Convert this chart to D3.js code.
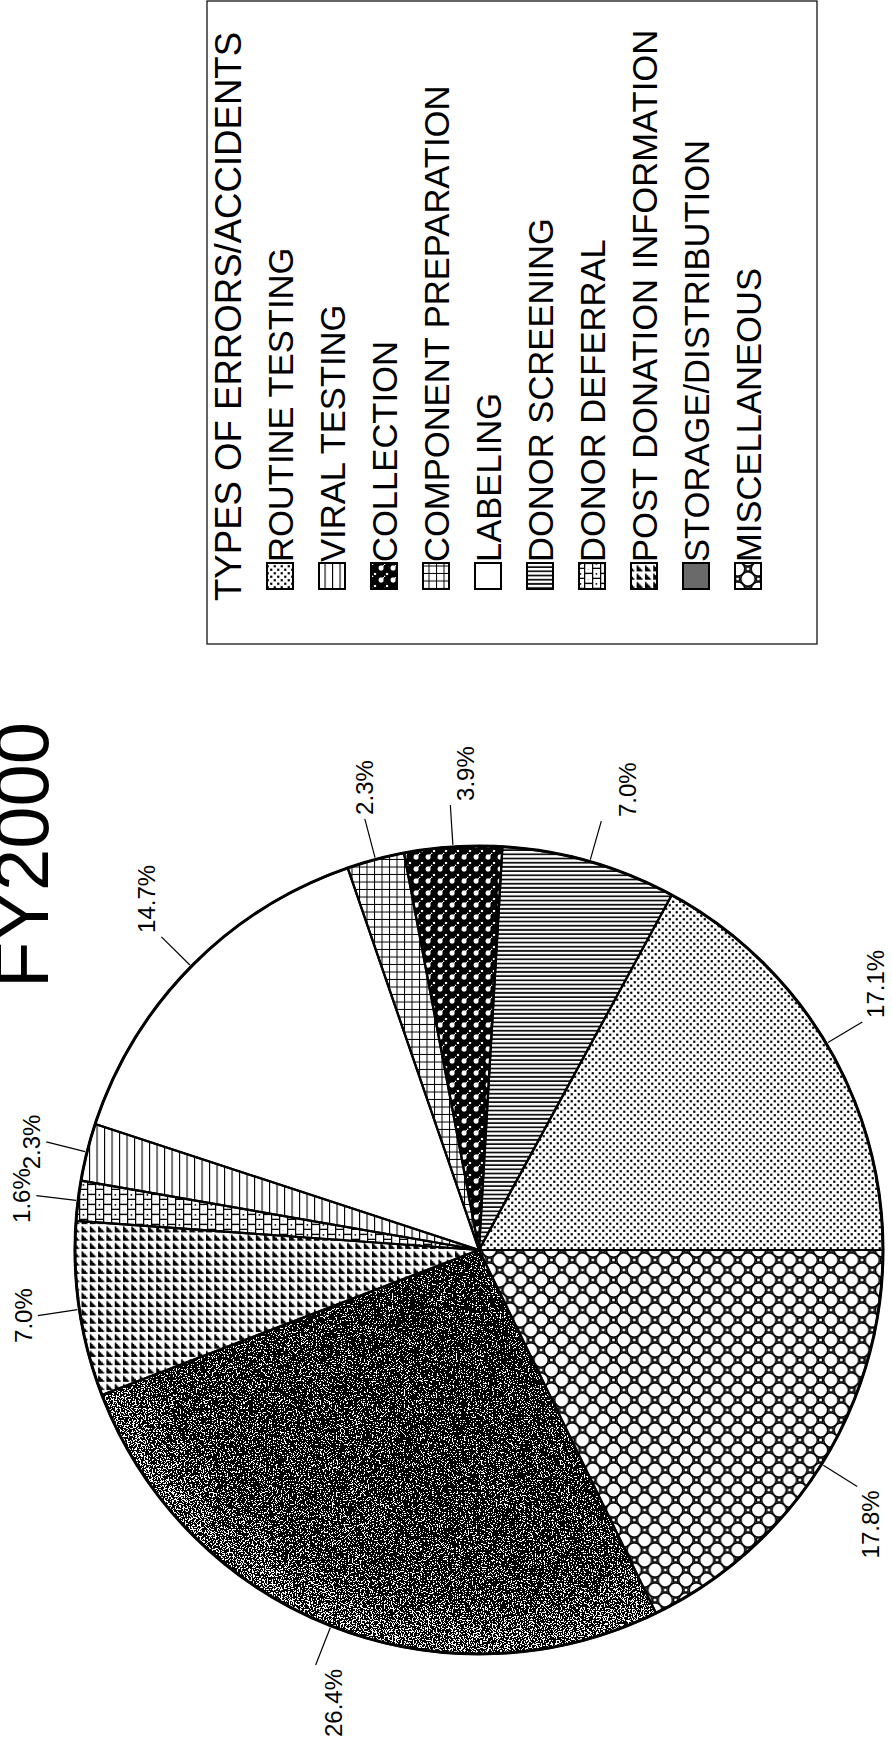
<!DOCTYPE html>
<html>
<head>
<meta charset="utf-8">
<script src="https://cdn.jsdelivr.net/npm/d3@7"></script>
<style>
  html, body { margin: 0; padding: 0; background: #fff; }
  svg { display: block; }
  text { font-family: "Liberation Sans", Arial, Helvetica, sans-serif; fill: #000; }
</style>
</head>
<body>
<script>
// Types of errors/accidents reported, FY2000 (percent of total)
const chartTitle = "FY2000";
const legendTitle = "TYPES OF ERRORS/ACCIDENTS";
const categories = [
  "ROUTINE TESTING",
  "VIRAL TESTING",
  "COLLECTION",
  "COMPONENT PREPARATION",
  "LABELING",
  "DONOR SCREENING",
  "DONOR DEFERRAL",
  "POST DONATION INFORMATION",
  "STORAGE/DISTRIBUTION",
  "MISCELLANEOUS"
];
const shares = [17.1, 2.3, 3.9, 2.3, 14.7, 7.0, 1.6, 7.0, 26.4, 17.8];
// order in which the slices run clockwise from six o'clock
const sliceOrder = [9, 8, 7, 6, 1, 4, 3, 2, 5, 0];
const fillIds = ["pRoutine", "pViral", "pCollection", "pComponent", "pLabeling",
                 "pScreening", "pDeferral", "pPost", "pStorage", "pMisc"];
// extra downward drop of some value labels, in px
const labelDrop = [0, 0, 15, 0, 0, 26, 0, 0, 32, 0];

// The chart is laid out landscape and turned a quarter turn onto the portrait page.
const PW = 892, PH = 1746;      // page
const W = PH, H = PW;           // landscape frame

const svg = d3.select("body").append("svg")
  .attr("width", PW).attr("height", PH)
  .attr("viewBox", `0 0 ${PW} ${PH}`);

const defs = svg.append("defs");

function pattern(id, w, h) {
  return defs.append("pattern").attr("id", id)
    .attr("patternUnits", "userSpaceOnUse")
    .attr("width", w).attr("height", h);
}

// routine testing: staggered fine dots
{
  const p = pattern("pRoutine", 7, 7);
  p.append("rect").attr("width", 7).attr("height", 7).attr("fill", "#fff");
  [[1.75, 1.75], [5.25, 5.25]].forEach(([x, y]) =>
    p.append("rect").attr("x", x - 1.1).attr("y", y - 1.1).attr("width", 2.2).attr("height", 2.2).attr("fill", "#000"));
}
// viral testing: spaced thin rules
{
  const p = pattern("pViral", 10, 7.5);
  p.append("rect").attr("width", 10).attr("height", 7.5).attr("fill", "#fff");
  p.append("rect").attr("y", 0).attr("width", 10).attr("height", 1.1).attr("fill", "#000");
}
// collection: dark weave with light bars and rings
{
  const s = 12;
  const p = pattern("pCollection", s, s);
  p.append("rect").attr("width", s).attr("height", s).attr("fill", "#000");
  p.append("path").attr("d", `M${-s},${s} L${s},${-s} M0,${2 * s} L${2 * s},0`)
    .attr("stroke", "#fff").attr("stroke-width", 2.6);
  p.append("circle").attr("cx", 0.75 * s).attr("cy", 0.75 * s).attr("r", 2.6).attr("fill", "#fff");
  p.append("circle").attr("cx", 0.25 * s).attr("cy", 0.25 * s).attr("r", 1.2).attr("fill", "#fff");
}
// component preparation: square grid
{
  const p = pattern("pComponent", 7.5, 7.5);
  p.append("rect").attr("width", 7.5).attr("height", 7.5).attr("fill", "#fff");
  p.append("rect").attr("width", 7.5).attr("height", 1).attr("fill", "#000");
  p.append("rect").attr("width", 1).attr("height", 7.5).attr("fill", "#000");
}
// labeling: plain white
{
  const p = pattern("pLabeling", 4, 4);
  p.append("rect").attr("width", 4).attr("height", 4).attr("fill", "#fff");
}
// donor screening: close rules
{
  const p = pattern("pScreening", 4.2, 10);
  p.append("rect").attr("width", 4.2).attr("height", 10).attr("fill", "#fff");
  p.append("rect").attr("x", 0).attr("width", 1.8).attr("height", 10).attr("fill", "#111");
}
// donor deferral: small bricks with centre dots
{
  const w = 10, h = 8;
  const p = pattern("pDeferral", w, h * 2);
  p.append("rect").attr("width", w).attr("height", h * 2).attr("fill", "#fff");
  p.append("path").attr("d",
    `M0,0.6 H${w} M0,${h + 0.6} H${w} M0.6,0 V${h} M${w / 2 + 0.6},${h} V${2 * h}`)
    .attr("stroke", "#000").attr("stroke-width", 1.4).attr("fill", "none");
  p.append("rect").attr("x", w / 2 - 0.7).attr("y", h / 2 - 0.4).attr("width", 1.6).attr("height", 1.6).attr("fill", "#000");
  p.append("rect").attr("x", w - 0.2).attr("y", h * 1.5 - 0.4).attr("width", 1.6).attr("height", 1.6).attr("fill", "#000");
}
// post donation information: stepped black triangles
{
  const s = 8.3;
  const p = pattern("pPost", s, s);
  p.append("rect").attr("width", s).attr("height", s).attr("fill", "#fff");
  p.append("path").attr("d", "M1,1 H7 V2.5 H5.5 V4 H4 V5.5 H2.5 V7 H1 Z").attr("fill", "#000");
}
// miscellaneous: rings with small squares at the joins
{
  const w = 20, h = 20.7;
  const p = pattern("pMisc", w, h);
  p.append("rect").attr("width", w).attr("height", h).attr("fill", "#fff");
  [[w / 2, 0], [0, h / 2], [w, h / 2], [w / 2, h]].forEach(([x, y]) =>
    p.append("circle").attr("cx", x).attr("cy", y).attr("r", 7.2)
      .attr("fill", "none").attr("stroke", "#000").attr("stroke-width", 1.6));
  [[0, 0], [w, 0], [0, h], [w, h], [w / 2, h / 2]].forEach(([x, y]) =>
    p.append("rect").attr("x", x - 2).attr("y", y - 2).attr("width", 4).attr("height", 4)
      .attr("fill", "#fff").attr("stroke", "#000").attr("stroke-width", 1.4));
}
// storage/distribution: dithered dark tone
{
  const gr = defs.append("radialGradient").attr("id", "gStorage")
    .attr("gradientUnits", "userSpaceOnUse").attr("cx", 0).attr("cy", 0).attr("r", 404);
  gr.append("stop").attr("offset", "0").attr("stop-color", "#3a3a3a");
  gr.append("stop").attr("offset", "0.85").attr("stop-color", "#4a4a4a");
  gr.append("stop").attr("offset", "1").attr("stop-color", "#6e6e6e");

  const f = defs.append("filter").attr("id", "fDither")
    .attr("x", "-2%").attr("y", "-2%").attr("width", "104%").attr("height", "104%")
    .attr("color-interpolation-filters", "sRGB");
  f.append("feTurbulence").attr("type", "fractalNoise").attr("baseFrequency", "0.75")
    .attr("numOctaves", 2).attr("seed", 7).attr("result", "noise");
  f.append("feColorMatrix").attr("in", "noise").attr("type", "matrix")
    .attr("values", "1 0 0 0 0  1 0 0 0 0  1 0 0 0 0  0 0 0 0 1").attr("result", "gn");
  f.append("feComposite").attr("in", "SourceGraphic").attr("in2", "gn")
    .attr("operator", "arithmetic").attr("k1", 0).attr("k2", 1).attr("k3", 2.2).attr("k4", -1.1)
    .attr("result", "mix");
  const ct = f.append("feComponentTransfer").attr("in", "mix").attr("result", "bw");
  ["feFuncR", "feFuncG", "feFuncB"].forEach(n => ct.append(n).attr("type", "discrete").attr("tableValues", "0 1"));
  f.append("feComposite").attr("in", "bw").attr("in2", "SourceGraphic").attr("operator", "in");
}

const g = svg.append("g").attr("transform", `translate(0,${W}) rotate(-90)`);

// ---------- title ----------
g.append("text")
  .attr("x", 891).attr("y", 48)
  .attr("text-anchor", "middle")
  .style("font-size", "76px")
  .text(chartTitle);

// ---------- pie ----------
const cx = 496, cy = 479, R = 404;
const pieData = sliceOrder.map(i => ({ i, value: shares[i] }));
const arcs = d3.pie().value(d => d.value).sort(null)
  .startAngle(Math.PI).endAngle(3 * Math.PI)(pieData);
const arcGen = d3.arc().innerRadius(0).outerRadius(R);

const pie = g.append("g").attr("transform", `translate(${cx},${cy})`);

pie.selectAll("path.fill").data(arcs).join("path")
  .attr("class", "fill")
  .attr("d", arcGen)
  .attr("fill", d => d.data.i === 8 ? "url(#gStorage)" : `url(#${fillIds[d.data.i]})`)
  .attr("filter", d => d.data.i === 8 ? "url(#fDither)" : null);

pie.selectAll("path.edge").data(arcs).join("path")
  .attr("class", "edge")
  .attr("d", arcGen)
  .attr("fill", "none").attr("stroke", "#000").attr("stroke-width", 2.2)
  .attr("stroke-linejoin", "round");

pie.append("circle").attr("r", R).attr("fill", "none")
  .attr("stroke", "#000").attr("stroke-width", 3);

// ---------- value labels ----------
const fmt = v => d3.format(".1f")(v) + "%";
const capH = 17;
const labels = pie.selectAll("g.lab").data(arcs).join("g").attr("class", "lab");
labels.each(function (d) {
  const a = (d.startAngle + d.endAngle) / 2;
  const ux = Math.sin(a), uy = -Math.cos(a);
  const x0 = ux * (R + 2), y0 = uy * (R + 2);
  const x1 = ux * (R + 42), y1 = uy * (R + 42);
  const sel = d3.select(this);
  sel.append("line").attr("x1", x0).attr("y1", y0).attr("x2", x1).attr("y2", y1)
    .attr("stroke", "#000").attr("stroke-width", 1.2);
  const anchor = ux > 0.35 ? "start" : ux < -0.35 ? "end" : "middle";
  const tx = x1 + (ux > 0.35 ? 4 : ux < -0.35 ? -4 : 0);
  const ty = (uy < -0.35 ? y1 - 6 : uy > 0.35 ? y1 + 5 + capH : y1 + capH / 2) + labelDrop[d.data.i];
  sel.append("text").attr("x", tx).attr("y", ty)
    .attr("text-anchor", anchor)
    .style("font-size", "24px")
    .text(fmt(d.data.value));
});

// ---------- legend ----------
const lx0 = 1102, ly0 = 207, ly1 = 817;
const legend = g.append("g");
legend.append("rect")
  .attr("x", lx0).attr("y", ly0).attr("width", W - 1 - lx0).attr("height", ly1 - ly0)
  .attr("fill", "#fff").attr("stroke", "#000").attr("stroke-width", 1.2);

const rowY = d3.scaleLinear().domain([0, 1]).range([280, 332]);
legend.append("text")
  .attr("x", 1145).attr("y", 241)
  .style("font-size", "36.6px")
  .text(legendTitle);

const sw = 26;
const rows = legend.selectAll("g.row").data(categories).join("g").attr("class", "row")
  .attr("transform", (d, i) => `translate(1157,${rowY(i)})`);
rows.append("rect")
  .attr("x", 0).attr("y", -sw / 2).attr("width", sw).attr("height", sw)
  .attr("fill", (d, i) => i === 8 ? "#6a6a6a" : `url(#${fillIds[i]})`)
  .attr("stroke", "#000").attr("stroke-width", 2);
rows.append("text")
  .attr("x", sw + 1).attr("y", 13)
  .style("font-size", "34.6px")
  .text(d => d);
</script>
</body>
</html>
